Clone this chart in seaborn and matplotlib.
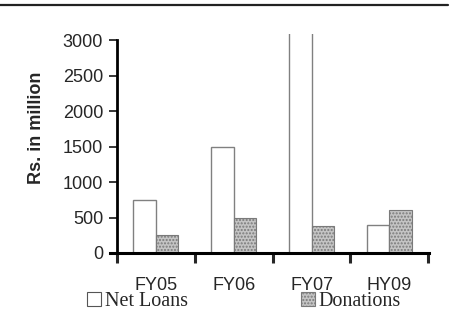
import pandas as pd
import seaborn as sns
import matplotlib.pyplot as plt
import matplotlib.patches as mpatches
from matplotlib.lines import Line2D

periods = ["FY05", "FY06", "FY07", "HY09"]
net_loans = [750, 1500, 3500, 390]
donations = [250, 490, 380, 600]
series = ["Net Loans", "Donations"]
y_ticks = [0, 500, 1000, 1500, 2000, 2500, 3000]

df = pd.DataFrame({
    "period": periods * 2,
    "value": net_loans + donations,
    "series": [series[0]] * 4 + [series[1]] * 4,
})

sns.set_style("white")
plt.rcParams['font.family'] = ['Liberation Sans', 'DejaVu Sans']

fig = plt.figure(figsize=(4.55, 3.13), dpi=100)
ax = fig.add_axes([0.2418, 0.1917, 0.701, 0.6997])

sns.barplot(data=df, x="period", y="value", hue="series", order=periods,
            hue_order=series, palette=["white", "#c4c4c4"], width=0.58,
            ax=ax, legend=False)

# style bars
n = len(periods)
for i, p in enumerate(ax.patches):
    if i < n:
        p.set_edgecolor("#808080")
        p.set_linewidth(1.0)
    else:
        p.set_edgecolor("#7a7a7a")
        p.set_linewidth(0.8)
        p.set_hatch(".....")

ax.set_ylim(0, 3085)
ax.set_xlim(-0.59, 3.51)
ax.set_yticks(y_ticks)
ax.tick_params(axis="y", direction="out", length=6, width=1.3, pad=4,
               labelsize=13, left=True)
ax.set_xticks([-0.5, 0.5, 1.5, 2.5, 3.5])
ax.set_xticklabels([""] * 5)
ax.tick_params(axis="x", which="major", direction="out", length=7, width=2.2,
               bottom=True)
ax.set_xticks(range(n), minor=True)
ax.set_xticklabels(periods, minor=True)
ax.tick_params(axis="x", which="minor", length=0, pad=17, labelsize=13)

for s in ["top", "right"]:
    ax.spines[s].set_visible(False)
ax.spines["left"].set_position(("data", -0.5))
ax.spines["left"].set_bounds(0, 3000)
ax.spines["left"].set_linewidth(2)
ax.spines["bottom"].set_linewidth(2.2)
ax.spines["left"].set_color("black")
ax.spines["bottom"].set_color("black")

ax.set_xlabel("")
ax.set_ylabel("Rs. in million", fontsize=13, fontweight="bold")
ax.yaxis.set_label_coords(-0.204, 0.571)

handles = [
    mpatches.Patch(facecolor="white", edgecolor="#555555", linewidth=0.8),
    mpatches.Patch(facecolor="#c4c4c4", edgecolor="#7a7a7a", linewidth=0.8,
                   hatch="....."),
]
fig.legend(handles, series, loc="center", bbox_to_anchor=(0.536, 0.036),
           ncol=2, frameon=False, handlelength=0.7, handleheight=0.7,
           handletextpad=0.2, columnspacing=5.6,
           prop={"family": "Liberation Serif", "size": 14.5})

fig.add_artist(Line2D([0.0, 0.985], [0.984, 0.984], color="#222222",
                      linewidth=1.6, transform=fig.transFigure))

fig.savefig("out.png", dpi=100)
